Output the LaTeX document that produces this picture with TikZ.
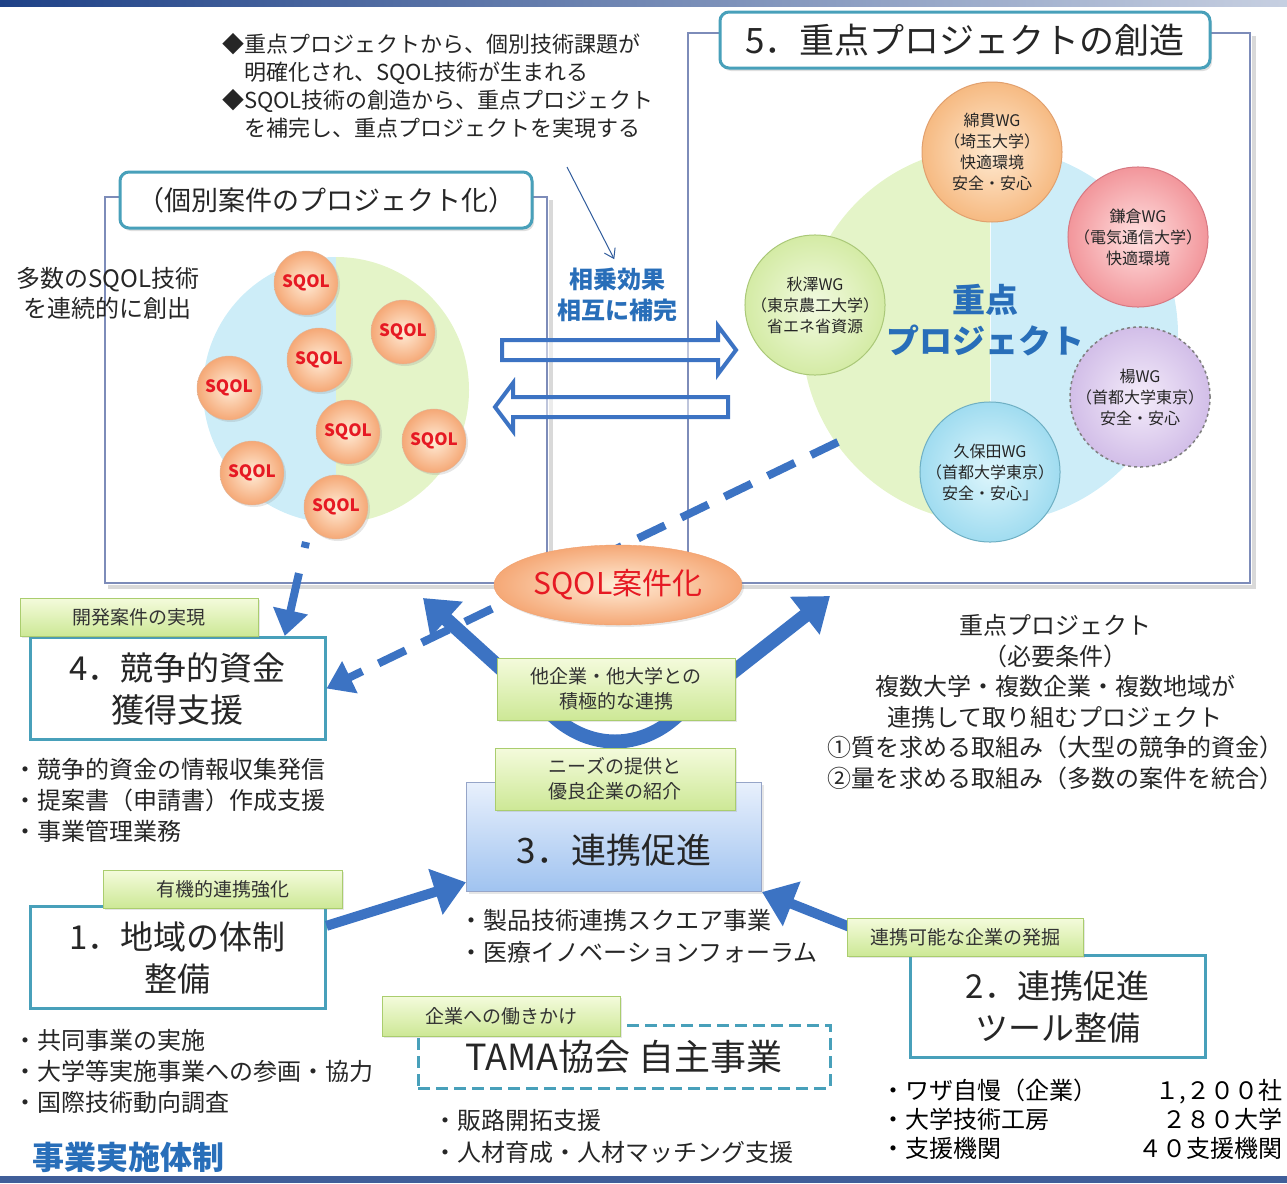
\documentclass[tikz,border=0pt]{standalone}
\usepackage{fontspec}
\setmainfont{Noto Sans CJK JP}
\usetikzlibrary{calc}
\usetikzlibrary{arrows.meta}
\usetikzlibrary{shadows}
\usetikzlibrary{shapes.geometric}

\definecolor{tealline}{RGB}{72,160,186}
\definecolor{frameline}{RGB}{125,140,185}
\definecolor{arrowblue}{RGB}{60,115,195}
\definecolor{textblue}{RGB}{40,110,185}
\definecolor{sqolred}{RGB}{230,25,35}
\definecolor{sqolin}{RGB}{255,236,215}
\definecolor{sqolout}{RGB}{245,168,118}
\definecolor{labtop}{RGB}{244,251,220}
\definecolor{labbot}{RGB}{205,232,150}
\definecolor{labline}{RGB}{170,205,110}
\definecolor{halfgreen}{RGB}{228,244,200}
\definecolor{halfblue}{RGB}{205,237,248}
\definecolor{topbar}{RGB}{30,65,135}

\tikzset{
  titlebox/.style={draw=tealline, line width=3pt, rounded corners=9pt, fill=white,
    drop shadow={opacity=.25,shadow xshift=2pt,shadow yshift=-3pt}, minimum height=56, text=black!85},
  greenlab/.style={draw=labline, line width=1pt, top color=labtop, bottom color=labbot,
    minimum height=38, align=center, font=\fontsize{19}{25}\selectfont, text=black!80,
    drop shadow={opacity=.2,shadow xshift=2pt,shadow yshift=-2pt}},
  numbox/.style={draw=tealline, line width=3pt, fill=white, minimum width=295, minimum height=102,
    align=center, font=\fontsize{33}{42}\selectfont, text=black!85},
  sqol/.style={circle, draw=sqolout!80!black!60, inner color=sqolin, outer color=sqolout,
    minimum size=64, inner sep=0, font=\bfseries\fontsize{17}{17}\selectfont, text=sqolred,
    drop shadow={opacity=.2,shadow xshift=2pt,shadow yshift=-2pt}},
  wg/.style={circle, line width=1pt, minimum size=140, inner sep=0, align=center,
    font=\fontsize{16}{21}\selectfont, text=black!85},
  bul/.style={anchor=west, align=left, font=\fontsize{24}{31}\selectfont, text=black!85},
  bigarrow/.style={draw=arrowblue, line width=14pt, -{Triangle[length=32pt,width=46pt]}},
  dasharrow/.style={draw=arrowblue, line width=8pt, dash pattern=on 30pt off 18pt,
    -{Triangle[length=26pt,width=34pt]}},
  hollowarrow/.style={draw=arrowblue, line width=4pt, fill=white, fill opacity=.5},
  panel/.style={draw=frameline, line width=1.5pt},
  panelshade/.style={draw=black!15, line width=4pt},
}

\begin{document}
\begin{tikzpicture}[x=1pt,y=-1pt]
\useasboundingbox (0,0) rectangle (1287,1183);

% bars
\shade[left color=topbar, right color=topbar!25] (0,0) rectangle (1287,6);
\fill[topbar!85] (0,1176) rectangle (1287,1183);

% panel frames
\draw[panelshade] (108,587) -- (551,587) -- (551,200);
\draw[panelshade] (691,587) -- (1254,587) -- (1254,36);
\draw[panel] (105,197) rectangle (547,583);
\draw[panel] (688,33) rectangle (1250,583);

% big circles
\begin{scope}
  \clip (190,250) rectangle (336,530);
  \fill[halfblue] (336,390) circle (133pt);
\end{scope}
\begin{scope}
  \clip (336,250) rectangle (480,530);
  \fill[halfgreen] (336,390) circle (133pt);
\end{scope}
\begin{scope}
  \clip (780,140) rectangle (990,530);
  \fill[halfgreen] (990,335) circle (188pt);
\end{scope}
\begin{scope}
  \clip (990,140) rectangle (1200,530);
  \fill[halfblue] (990,335) circle (188pt);
  \draw[white!80!halfblue, line width=1pt] (990,147) -- (990,523);
\end{scope}

% text in the panels
\node[anchor=north west, align=left, inner sep=0, font=\fontsize{22}{28}\selectfont, text=black!85]
  (note) at (222,33) {◆重点プロジェクトから、個別技術課題が\\　明確化され、SQOL技術が生まれる\\◆SQOL技術の創造から、重点プロジェクト\\　を補完し、重点プロジェクトを実現する};
\node[align=center, font=\fontsize{24}{30}\selectfont, text=black!85] (create) at (108,293)
  {多数のSQOL技術\\を連続的に創出};
\node[align=center, font=\bfseries\fontsize{24}{31}\selectfont, text=textblue] (synergy) at (617,295)
  {相乗効果\\相互に補完};
\node[align=center, font=\bfseries\fontsize{33}{41}\selectfont, text=textblue] (core) at (985,320)
  {重点\\プロジェクト};

\coordinate (notetail) at (567,167);
\draw[arrowblue!80!black, line width=1pt, -{Straight Barb[length=9pt,width=12pt]}, shorten >=6pt]
  (notetail) -- (synergy.north);

% hollow arrows
\draw[hollowarrow] (502,340) -- (718,340) -- (718,326) -- (736,350) -- (718,374) -- (718,360) -- (502,360) -- cycle;
\draw[hollowarrow] (728,397) -- (513,397) -- (513,383) -- (495,407) -- (513,431) -- (513,417) -- (728,417) -- cycle;

% nodes
\node[titlebox, minimum width=490, font=\fontsize{35}{40}\selectfont] (title5) at (965,40) {5．重点プロジェクトの創造};
\node[titlebox, minimum width=412, font=\fontsize{27}{32}\selectfont] (titlelp) at (326,200) {（個別案件のプロジェクト化）};

\node[numbox] (box4) at (177.5,688.5) {4．競争的資金\\獲得支援};
\node[numbox] (box1) at (177.5,957.5) {1．地域の体制\\整備};
\node[numbox] (box2) at (1057.5,1006.5) {2．連携促進\\ツール整備};
\node[draw={rgb,255:red,150;green,165;blue,200}, line width=1pt, top color={rgb,255:red,232;green,240;blue,252},
  bottom color={rgb,255:red,160;green,195;blue,240}, minimum width=295, minimum height=109,
  font=\fontsize{35}{40}\selectfont, text=black!85, text height=52pt, text depth=0pt,
  drop shadow={opacity=.2,shadow xshift=2pt,shadow yshift=-2pt}] (box3) at (614,837) {3．連携促進};
\node[draw=tealline, line width=3pt, dash pattern=on 12pt off 6pt, minimum width=412, minimum height=63,
  font=\fontsize{36}{40}\selectfont, text=black!85] (tama) at (624,1056.5) {TAMA協会 自主事業};

% connectors
\coordinate (uL) at (423,598);
\coordinate (uR) at (830,596);
\coordinate (devdot) at (306,542);
\coordinate (coretail) at (838,442);
\draw[dasharrow] (coretail) -- (box4.east);
\draw[dasharrow, dash pattern=on 6pt off 26pt on 60pt] (devdot) -- ($(box4.north east)!0.28!(box4.north)$);
\draw[draw=arrowblue, line width=14pt, {Triangle[length=32pt,width=46pt]}-{Triangle[length=32pt,width=46pt]}]
  (uL) -- (553,716) .. controls (590,750) and (640,750) .. (677,716) -- (uR);
\draw[bigarrow, line width=10pt] (box1.12) -- (box3.197);
\coordinate (lab2tail) at (870,935);
\draw[bigarrow, line width=10pt] (lab2tail) -- (box3.south east);

% WG circles
\node[wg, draw={rgb,255:red,225;green,160;blue,110}, inner color={rgb,255:red,255;green,234;blue,210},
  outer color={rgb,255:red,246;green,186;blue,130}] (wgwata) at (992,152) {綿貫WG\\（埼玉大学）\\快適環境\\安全・安心};
\node[wg, draw={rgb,255:red,215;green,120;blue,130}, inner color={rgb,255:red,255;green,225;blue,225},
  outer color={rgb,255:red,242;green,150;blue,155}] (wgkama) at (1138,237) {鎌倉WG\\（電気通信大学）\\快適環境};
\node[wg, draw={rgb,255:red,170;green,200;blue,120}, inner color={rgb,255:red,242;green,250;blue,225},
  outer color={rgb,255:red,212;green,235;blue,165}] (wgaki) at (815,305) {秋澤WG\\（東京農工大学）\\省エネ省資源};
\node[wg, draw=black!50, dashed, line width=1.5pt, inner color={rgb,255:red,244;green,236;blue,250},
  outer color={rgb,255:red,210;green,190;blue,232}] (wgyang) at (1140,397) {楊WG\\（首都大学東京）\\安全・安心};
\node[wg, draw={rgb,255:red,110;green,175;blue,195}, inner color={rgb,255:red,222;green,246;blue,252},
  outer color={rgb,255:red,160;green,220;blue,240}] (wgkubo) at (990,472) {久保田WG\\（首都大学東京）\\安全・安心」};

% SQOL circles
\node[sqol] (sq1) at (306,283) {SQOL};
\node[sqol] (sq2) at (403,332) {SQOL};
\node[sqol] (sq3) at (319,360) {SQOL};
\node[sqol] (sq4) at (229,388) {SQOL};
\node[sqol] (sq5) at (348,432) {SQOL};
\node[sqol] (sq6) at (434,441) {SQOL};
\node[sqol] (sq7) at (252,473) {SQOL};
\node[sqol] (sq8) at (336,507) {SQOL};

\node[ellipse, draw={rgb,255:red,240;green,160;blue,110}, inner color=sqolin, outer color=sqolout,
  minimum width=236, minimum height=80, font=\fontsize{30}{34}\selectfont, text=sqolred,
  drop shadow={opacity=.2,shadow xshift=2pt,shadow yshift=-2pt}] (sqolcase) at (618,585) {SQOL案件化};

% labels
\node[greenlab, minimum width=238] (lab4) at (139,617) {開発案件の実現};
\node[greenlab, minimum width=238, minimum height=62] (labA) at (616,689) {他企業・他大学との\\積極的な連携};
\node[greenlab, minimum width=240, minimum height=62] (labB) at (615,779) {ニーズの提供と\\優良企業の紹介};
\node[greenlab, minimum width=239] (lab1) at (222.5,889) {有機的連携強化};
\node[greenlab, minimum width=236] (lab2) at (965,937) {連携可能な企業の発掘};
\node[greenlab, minimum width=238, minimum height=40] (labT) at (501,1016) {企業への働きかけ};

% bullet lists
\node[bul] (bul4) at (10,800) {・競争的資金の情報収集発信\\・提案書（申請書）作成支援\\・事業管理業務};
\node[bul, font=\fontsize{24}{32}\selectfont] (bul3) at (456,936) {・製品技術連携スクエア事業\\・医療イノベーションフォーラム};
\node[bul] (bul1) at (10,1071) {・共同事業の実施\\・大学等実施事業への参画・協力\\・国際技術動向調査};
\node[bul, font=\fontsize{24}{32}\selectfont] (bulT) at (430,1136) {・販路開拓支援\\・人材育成・人材マッチング支援};
\node[bul, font=\fontsize{24}{29}\selectfont, text=black] (bul2) at (878,1119) {・ワザ自慢（企業）\\・大学技術工房\\・支援機関};
\node[anchor=east, align=right, font=\fontsize{24}{29}\selectfont, text=black] (bul2n) at (1286,1119) {１,２００社\\２８０大学\\４０支援機関};

\node[align=center, font=\fontsize{24}{30.6}\selectfont, text=black!85] (needs) at (1055,702)
  {重点プロジェクト\\（必要条件）\\複数大学・複数企業・複数地域が\\連携して取り組むプロジェクト\\①質を求める取組み（大型の競争的資金）\\②量を求める取組み（多数の案件を統合）};

\node[font=\bfseries\fontsize{32}{36}\selectfont, text=textblue] (jigyo) at (128,1157) {事業実施体制};
\end{tikzpicture}
\end{document}
